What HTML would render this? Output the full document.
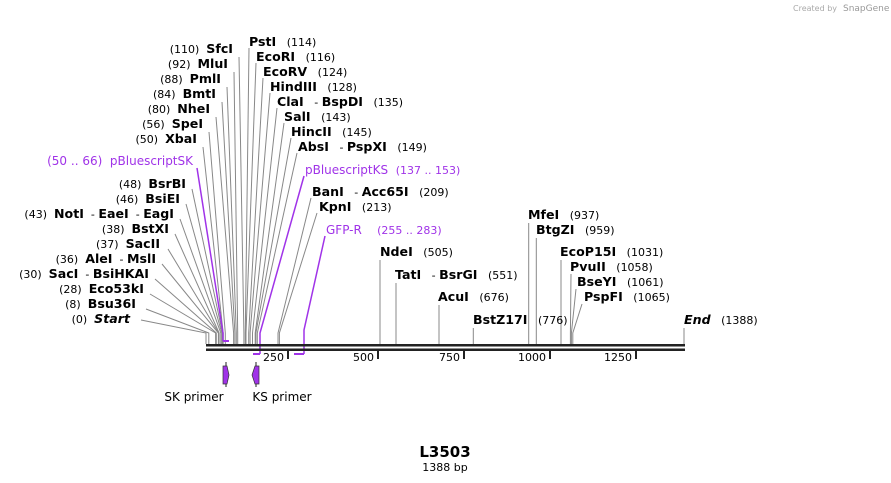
<!DOCTYPE html>
<html><head><meta charset="utf-8"><style>
body{margin:0;background:#fff}
svg{display:block}
text{font-family:"DejaVu Sans","Liberation Sans",sans-serif;font-size:11px;fill:#000;white-space:pre}
.b{font-weight:bold;font-size:12.6px}
.p{fill:#a033e8}
.i{font-style:italic}
</style></head><body>
<svg width="891" height="483" viewBox="0 0 891 483" xmlns="http://www.w3.org/2000/svg" xml:space="preserve">
<text x="793" y="11" style="font-size:8px;fill:#aaa">Created by</text>
<text x="843" y="11" style="font-size:9px;fill:#999">SnapGene</text>
<g stroke="#888" stroke-width="1" fill="none">
<polyline points="239,57 243.9,333 243.9,344"/>
<polyline points="234,72 237.7,333 237.7,344"/>
<polyline points="227,87 236.3,333 236.3,344"/>
<polyline points="222,102 234.9,333 234.9,344"/>
<polyline points="216,117 233.6,333 233.6,344"/>
<polyline points="209,132 225.3,333 225.3,344"/>
<polyline points="203,147 223.2,333 223.2,344"/>
<polyline points="192,189 222.5,333 222.5,344"/>
<polyline points="186,204 221.8,333 221.8,344"/>
<polyline points="180,219 220.8,333 220.8,344"/>
<polyline points="175,234 219.1,333 219.1,344"/>
<polyline points="168,249 218.7,333 218.7,344"/>
<polyline points="162,264 218.4,333 218.4,344"/>
<polyline points="155,279 216.3,333 216.3,344"/>
<polyline points="150,294 215.6,333 215.6,344"/>
<polyline points="146,309 208.8,333 208.8,344"/>
<polyline points="141,320 206,333 206,344"/>
<polyline points="249,48 245.3,333 245.3,344"/>
<polyline points="256,63 246,333 246,344"/>
<polyline points="263,78 248.7,333 248.7,344"/>
<polyline points="270,93 250.1,333 250.1,344"/>
<polyline points="277,108 252.5,333 252.5,344"/>
<polyline points="284,123 255.2,333 255.2,344"/>
<polyline points="291,138 255.9,333 255.9,344"/>
<polyline points="297,153 257.3,333 257.3,344"/>
<polyline points="311,198 278,333 278,344"/>
<polyline points="317,213 279.4,333 279.4,344"/>
<polyline points="380,260 380,344"/>
<polyline points="396,283 396,344"/>
<polyline points="439,305 439,344"/>
<polyline points="473.3,328 473.3,344"/>
<polyline points="528.7,223 528.7,344"/>
<polyline points="536.3,238 536.3,344"/>
<polyline points="561,260 561,344"/>
<polyline points="571,274 570.4,333 570.4,344"/>
<polyline points="576,289 571.4,333 571.4,344"/>
<polyline points="582,304 572.8,333 572.8,344"/>
<polyline points="684,328 684,344"/>
</g>
<g stroke="#a033e8" stroke-width="1.5" fill="none">
<polyline points="197,168 223,333 223,341"/>
<line x1="223" y1="341" x2="229" y2="341" stroke-width="2"/>
<polyline points="304,176 260,333 260,354"/>
<line x1="253" y1="354" x2="260" y2="354" stroke-width="2"/>
<polyline points="325,236 304,330 304,354"/>
<line x1="294" y1="354" x2="304" y2="354" stroke-width="2"/>
</g>
<rect x="206" y="344" width="479" height="2.5" fill="#222"/>
<rect x="206" y="348.5" width="479" height="2.5" fill="#222"/>
<g fill="#222">
<rect x="287" y="351" width="2" height="8"/>
<rect x="377" y="351" width="2" height="8"/>
<rect x="463" y="351" width="2" height="8"/>
<rect x="549" y="351" width="2" height="8"/>
<rect x="635" y="351" width="2" height="8"/>
</g>
<g text-anchor="end">
<text x="284" y="361">250</text>
<text x="374" y="361">500</text>
<text x="460" y="361">750</text>
<text x="546" y="361">1000</text>
<text x="632" y="361">1250</text>
</g>
<line x1="226" y1="362" x2="226" y2="387" stroke="#222"/>
<polygon points="223,366 227,366 229,375 227,384 223,384" fill="#a033e8" stroke="#333" stroke-width="0.7"/>
<line x1="256" y1="362" x2="256" y2="387" stroke="#222"/>
<polygon points="259,366 255,366 252,375 255,384 259,384" fill="#a033e8" stroke="#333" stroke-width="0.7"/>
<text x="194" y="401" text-anchor="middle" style="font-size:12px">SK primer</text>
<text x="282" y="401" text-anchor="middle" style="font-size:12px">KS primer</text>
<g text-anchor="end">
<text x="233" y="53">(110)  <tspan class="b">SfcI</tspan></text>
<text x="228" y="68">(92)  <tspan class="b">MluI</tspan></text>
<text x="221" y="83">(88)  <tspan class="b">PmlI</tspan></text>
<text x="216" y="98">(84)  <tspan class="b">BmtI</tspan></text>
<text x="210" y="113">(80)  <tspan class="b">NheI</tspan></text>
<text x="203" y="128">(56)  <tspan class="b">SpeI</tspan></text>
<text x="197" y="143">(50)  <tspan class="b">XbaI</tspan></text>
<text x="193" y="165" class="p" style="font-size:12px">(50 .. 66)  pBluescriptSK</text>
<text x="186" y="188">(48)  <tspan class="b">BsrBI</tspan></text>
<text x="180" y="203">(46)  <tspan class="b">BsiEI</tspan></text>
<text x="174" y="218">(43)  <tspan class="b">NotI</tspan>  - <tspan class="b">EaeI</tspan>  - <tspan class="b">EagI</tspan></text>
<text x="169" y="233">(38)  <tspan class="b">BstXI</tspan></text>
<text x="160" y="248">(37)  <tspan class="b">SacII</tspan></text>
<text x="156" y="263">(36)  <tspan class="b">AleI</tspan>  - <tspan class="b">MslI</tspan></text>
<text x="149" y="278">(30)  <tspan class="b">SacI</tspan>  - <tspan class="b">BsiHKAI</tspan></text>
<text x="144" y="293">(28)  <tspan class="b">Eco53kI</tspan></text>
<text x="136" y="308">(8)  <tspan class="b">Bsu36I</tspan></text>
<text x="130" y="323">(0)  <tspan class="b i">Start</tspan></text>
</g>
<text x="249" y="46"><tspan class="b">PstI</tspan>   (114)</text>
<text x="256" y="61"><tspan class="b">EcoRI</tspan>   (116)</text>
<text x="263" y="76"><tspan class="b">EcoRV</tspan>   (124)</text>
<text x="270" y="91"><tspan class="b">HindIII</tspan>   (128)</text>
<text x="277" y="106"><tspan class="b">ClaI</tspan>   - <tspan class="b">BspDI</tspan>   (135)</text>
<text x="284" y="121"><tspan class="b">SalI</tspan>   (143)</text>
<text x="291" y="136"><tspan class="b">HincII</tspan>   (145)</text>
<text x="298" y="151"><tspan class="b">AbsI</tspan>   - <tspan class="b">PspXI</tspan>   (149)</text>
<text x="305" y="174" class="p" style="font-size:12px">pBluescriptKS  <tspan style="font-size:11px">(137 .. 153)</tspan></text>
<text x="312" y="196"><tspan class="b">BanI</tspan>   - <tspan class="b">Acc65I</tspan>   (209)</text>
<text x="319" y="211"><tspan class="b">KpnI</tspan>   (213)</text>
<text x="326" y="234" class="p" style="font-size:12px">GFP-R    <tspan style="font-size:11px">(255 .. 283)</tspan></text>
<text x="380" y="256"><tspan class="b">NdeI</tspan>   (505)</text>
<text x="395" y="279"><tspan class="b">TatI</tspan>   - <tspan class="b">BsrGI</tspan>   (551)</text>
<text x="438" y="301"><tspan class="b">AcuI</tspan>   (676)</text>
<text x="473" y="324"><tspan class="b">BstZ17I</tspan>   (776)</text>
<text x="528" y="219"><tspan class="b">MfeI</tspan>   (937)</text>
<text x="536" y="234"><tspan class="b">BtgZI</tspan>   (959)</text>
<text x="560" y="256"><tspan class="b">EcoP15I</tspan>   (1031)</text>
<text x="570" y="271"><tspan class="b">PvuII</tspan>   (1058)</text>
<text x="577" y="286"><tspan class="b">BseYI</tspan>   (1061)</text>
<text x="584" y="301"><tspan class="b">PspFI</tspan>   (1065)</text>
<text x="684" y="324"><tspan class="b i">End</tspan>   (1388)</text>
<text x="445" y="457" text-anchor="middle" style="font-size:15px;font-weight:bold">L3503</text>
<text x="445" y="471" text-anchor="middle" style="font-size:11px">1388 bp</text>
</svg>
</body></html>
